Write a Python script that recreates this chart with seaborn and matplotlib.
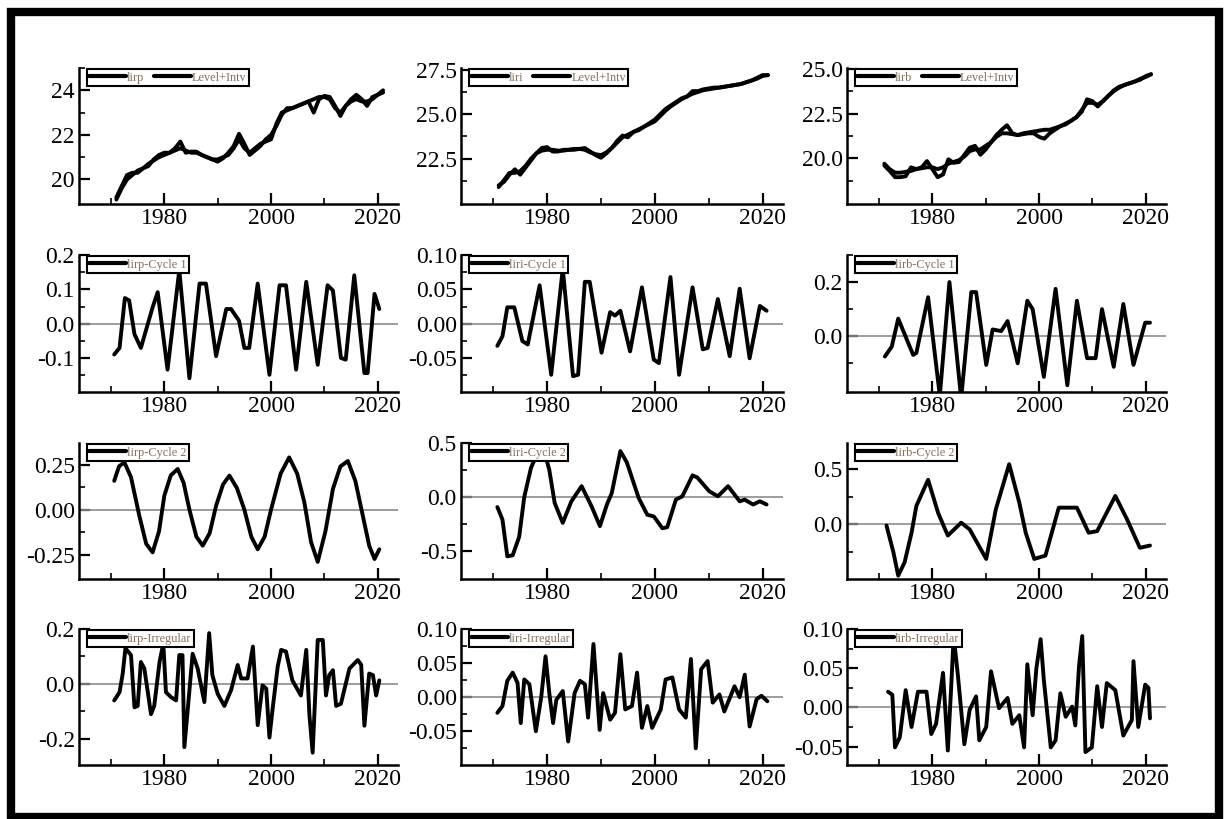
import numpy as np
import pandas as pd
import matplotlib
matplotlib.use("Agg")
import matplotlib.pyplot as plt
import seaborn as sns
from matplotlib.ticker import FixedLocator
from matplotlib.patches import Rectangle

# ---------------- data ----------------
years = list(range(1971, 2022))

lirp = [19.2, 19.7, 20.2, 20.3, 20.3, 20.5, 20.6, 20.9, 21.1, 21.2,
        21.2, 21.4, 21.7, 21.2, 21.25, 21.25, 21.1, 21.0, 20.9, 20.8,
        20.95, 21.2, 21.5, 22.05, 21.6, 21.1, 21.3, 21.5, 21.8, 22.0,
        22.4, 22.9, 23.2, 23.2, 23.3, 23.4, 23.5, 23.0, 23.6, 23.75,
        23.7, 23.3, 22.85, 23.3, 23.6, 23.8, 23.6, 23.3, 23.7, 23.8, 24.0]
lirp_trend = [19.1, 19.6, 20.0, 20.2, 20.4, 20.5, 20.7, 20.85, 21.0, 21.1,
              21.2, 21.3, 21.4, 21.3, 21.2, 21.2, 21.1, 21.0, 20.9, 20.9,
              21.0, 21.1, 21.4, 21.8, 21.4, 21.2, 21.4, 21.6, 21.7, 21.8,
              22.5, 23.0, 23.1, 23.2, 23.3, 23.4, 23.5, 23.6, 23.7, 23.7,
              23.6, 23.2, 23.0, 23.3, 23.5, 23.6, 23.5, 23.5, 23.6, 23.8, 23.9]

liri = [21.0, 21.2, 21.6, 21.9, 21.6, 22.0, 22.4, 22.8, 23.1, 23.15,
        22.9, 22.9, 23.0, 23.0, 23.05, 23.05, 23.1, 22.9, 22.7, 22.55,
        22.8, 23.1, 23.5, 23.8, 23.7, 24.0, 24.1, 24.3, 24.5, 24.7,
        25.0, 25.3, 25.5, 25.7, 25.9, 26.0, 26.3, 26.3, 26.4, 26.45,
        26.5, 26.5, 26.55, 26.6, 26.65, 26.7, 26.8, 26.9, 27.05, 27.2, 27.2]
liri_trend = [20.9, 21.3, 21.7, 21.7, 21.8, 22.1, 22.5, 22.8, 22.95, 23.0,
              23.0, 22.95, 22.95, 23.0, 23.0, 23.05, 23.0, 22.85, 22.75, 22.7,
              22.85, 23.1, 23.4, 23.7, 23.85, 24.0, 24.15, 24.3, 24.45, 24.6,
              24.9, 25.2, 25.45, 25.65, 25.85, 26.0, 26.15, 26.25, 26.35, 26.4,
              26.45, 26.5, 26.55, 26.6, 26.65, 26.7, 26.8, 26.9, 27.0, 27.15, 27.2]

lirb = [19.6, 19.3, 18.95, 18.95, 19.0, 19.5, 19.4, 19.5, 19.85, 19.4,
        18.95, 19.1, 19.95, 19.75, 19.8, 20.2, 20.6, 20.7, 20.2, 20.5,
        20.9, 21.3, 21.6, 21.85, 21.4, 21.3, 21.35, 21.4, 21.4, 21.2,
        21.1, 21.4, 21.6, 21.8, 21.9, 22.1, 22.3, 22.6, 23.3, 23.2,
        22.9, 23.2, 23.5, 23.8, 24.0, 24.1, 24.2, 24.3, 24.4, 24.6, 24.7]
lirb_trend = [19.7, 19.4, 19.2, 19.2, 19.25, 19.3, 19.4, 19.45, 19.5, 19.5,
              19.4, 19.5, 19.7, 19.8, 19.9, 20.1, 20.4, 20.5, 20.5, 20.7,
              20.9, 21.2, 21.4, 21.4, 21.35, 21.3, 21.4, 21.45, 21.5, 21.55,
              21.6, 21.6, 21.7, 21.8, 21.95, 22.1, 22.3, 22.7, 23.1, 23.1,
              23.0, 23.2, 23.5, 23.75, 23.95, 24.1, 24.2, 24.3, 24.45, 24.55, 24.7]

# Cycle 1
lirp_c1_t = [1970.6, 1971.6, 1972.6, 1973.4, 1974.4, 1975.6, 1977.8, 1978.75, 1980.6, 1982.8,
             1984.7, 1986.6, 1987.8, 1989.7, 1991.6, 1992.5, 1994.0, 1995.0, 1995.9, 1997.5,
             1999.7, 2001.6, 2002.8, 2004.7, 2006.6, 2008.75, 2010.6, 2011.6, 2013.1, 2014.0,
             2015.6, 2017.5, 2018.1, 2019.4, 2020.3]
lirp_c1 = [-0.089, -0.07, 0.075, 0.068, -0.03, -0.07, 0.048, 0.092, -0.133, 0.156,
           -0.158, 0.117, 0.117, -0.094, 0.043, 0.043, 0.009, -0.07, -0.07, 0.117,
           -0.148, 0.112, 0.112, -0.133, 0.122, -0.119, 0.112, 0.097, -0.099, -0.104,
           0.141, -0.143, -0.143, 0.087, 0.043]

liri_c1_t = [1970.75, 1971.7, 1972.6, 1973.9, 1975.4, 1976.4, 1978.6, 1980.75, 1982.9, 1984.8,
             1985.75, 1987.0, 1987.9, 1990.1, 1991.7, 1992.6, 1993.6, 1995.4, 1997.6, 1999.8,
             2000.75, 2002.9, 2004.5, 2007.0, 2008.9, 2009.8, 2011.7, 2013.9, 2015.75, 2017.6,
             2019.5, 2020.75]
liri_c1 = [-0.032, -0.018, 0.024, 0.024, -0.025, -0.03, 0.056, -0.074, 0.08, -0.076,
           -0.074, 0.061, 0.061, -0.042, 0.017, 0.012, 0.019, -0.04, 0.053, -0.052,
           -0.057, 0.068, -0.074, 0.053, -0.037, -0.035, 0.036, -0.047, 0.051, -0.05,
           0.026, 0.019]

lirb_c1_t = [1971.1, 1972.4, 1973.6, 1976.4, 1977.0, 1979.2, 1981.4, 1983.2, 1985.4, 1987.3,
             1988.2, 1990.1, 1991.3, 1992.9, 1994.1, 1996.0, 1997.8, 1998.8, 2000.9, 2003.1,
             2005.3, 2007.1, 2009.0, 2010.6, 2011.8, 2014.0, 2015.8, 2017.7, 2019.9, 2020.8]
lirb_c1 = [-0.075, -0.038, 0.065, -0.069, -0.062, 0.144, -0.22, 0.2, -0.23, 0.163,
           0.163, -0.106, 0.025, 0.019, 0.056, -0.1, 0.131, 0.1, -0.15, 0.175,
           -0.181, 0.131, -0.081, -0.081, 0.1, -0.113, 0.119, -0.106, 0.05, 0.05]

# Cycle 2
lirp_c2_t = [1970.6, 1971.5, 1972.5, 1973.75, 1975.3, 1976.6, 1977.8, 1979.0, 1980.0, 1981.2,
             1982.5, 1983.6, 1984.7, 1986.0, 1987.2, 1988.5, 1989.7, 1991.0, 1992.2, 1993.6,
             1995.0, 1996.3, 1997.5, 1998.8, 2000.0, 2001.8, 2003.4, 2004.9, 2006.25, 2007.5,
             2008.75, 2010.2, 2011.6, 2013.0, 2014.4, 2015.8, 2017.2, 2018.4, 2019.4, 2020.3]
lirp_c2 = [0.16, 0.24, 0.263, 0.18, -0.033, -0.19, -0.237, -0.12, 0.078, 0.19,
           0.226, 0.15, 0.0, -0.15, -0.2, -0.13, 0.022, 0.14, 0.189, 0.12,
           0.0, -0.15, -0.22, -0.15, 0.0, 0.2, 0.29, 0.2, 0.04, -0.18,
           -0.29, -0.12, 0.115, 0.24, 0.27, 0.16, -0.033, -0.2, -0.274, -0.22]

liri_c2_t = [1970.75, 1971.7, 1972.6, 1973.6, 1974.8, 1975.75, 1977.0, 1978.25, 1979.2, 1980.4,
             1981.4, 1982.9, 1984.5, 1986.4, 1988.25, 1989.8, 1991.1, 1992.0, 1993.6, 1994.8,
             1997.0, 1998.6, 1999.8, 2001.4, 2002.3, 2003.9, 2005.1, 2007.0, 2007.9, 2010.1,
             2011.7, 2013.6, 2015.75, 2016.7, 2018.25, 2019.5, 2020.75]
liri_c2 = [-0.093, -0.21, -0.55, -0.54, -0.37, 0.0, 0.27, 0.41, 0.47, 0.25,
           -0.056, -0.24, -0.04, 0.1, -0.087, -0.27, -0.07, 0.037, 0.425, 0.32,
           -0.01, -0.165, -0.18, -0.29, -0.28, -0.025, 0.006, 0.2, 0.18, 0.053,
           0.006, 0.1, -0.04, -0.025, -0.07, -0.04, -0.07]

lirb_c2_t = [1971.4, 1972.7, 1973.6, 1974.8, 1976.1, 1977.0, 1979.2, 1981.1, 1982.9, 1985.4,
             1987.0, 1990.1, 1991.9, 1994.4, 1996.3, 1997.5, 1999.1, 2001.2, 2003.7, 2007.1,
             2009.3, 2010.9, 2014.3, 2016.5, 2018.9, 2020.8]
lirb_c2 = [-0.01, -0.25, -0.46, -0.34, -0.075, 0.165, 0.4, 0.1, -0.1, 0.015,
           -0.045, -0.31, 0.135, 0.54, 0.195, -0.075, -0.31, -0.28, 0.15, 0.15,
           -0.075, -0.06, 0.255, 0.045, -0.21, -0.19]

# Irregular
lirp_ir_t = [1970.6, 1971.6, 1972.2, 1972.7, 1973.75, 1974.4, 1975.0, 1975.6, 1976.25, 1977.5,
             1978.1, 1979.1, 1979.8, 1980.3, 1981.25, 1982.2, 1982.8, 1983.4, 1983.75, 1984.4,
             1985.3, 1986.25, 1987.5, 1988.4, 1989.0, 1990.0, 1991.25, 1992.5, 1993.75, 1994.4,
             1995.6, 1996.6, 1997.5, 1998.4, 1999.1, 1999.7, 2000.3, 2001.25, 2001.9, 2002.8,
             2004.0, 2005.6, 2006.6, 2007.2, 2007.8, 2008.75, 2009.7, 2010.3, 2010.9, 2011.6,
             2012.2, 2013.1, 2014.7, 2016.25, 2016.9, 2017.5, 2018.4, 2019.1, 2019.7, 2020.3]
lirp_ir = [-0.06, -0.03, 0.038, 0.13, 0.105, -0.085, -0.08, 0.08, 0.056, -0.11,
           -0.08, 0.08, 0.148, -0.03, -0.048, -0.06, 0.105, 0.105, -0.23, -0.09,
           0.11, 0.056, -0.066, 0.185, 0.032, -0.036, -0.08, -0.023, 0.069, 0.02,
           0.02, 0.136, -0.15, -0.005, -0.017, -0.195, -0.09, 0.063, 0.124, 0.118,
           0.013, -0.042, 0.124, -0.115, -0.25, 0.16, 0.16, -0.042, 0.032, 0.05,
           -0.08, -0.072, 0.056, 0.087, 0.07, -0.152, 0.038, 0.032, -0.042, 0.013]

liri_ir_t = [1970.75, 1971.7, 1972.6, 1973.6, 1974.5, 1975.1, 1975.75, 1976.7, 1977.9, 1978.9,
             1979.7, 1980.4, 1981.1, 1981.7, 1982.9, 1983.9, 1985.1, 1986.1, 1987.0, 1987.6,
             1988.6, 1989.75, 1990.4, 1991.7, 1992.6, 1993.6, 1994.5, 1995.75, 1996.7, 1997.6,
             1998.6, 1999.5, 2001.1, 2002.0, 2003.25, 2004.5, 2005.75, 2006.7, 2007.6, 2008.6,
             2009.8, 2010.75, 2012.0, 2012.9, 2014.8, 2015.75, 2016.7, 2017.6, 2018.9, 2019.8,
             2020.9]
liri_ir = [-0.023, -0.013, 0.024, 0.036, 0.021, -0.038, 0.026, 0.019, -0.05, 0.0,
           0.06, 0.006, -0.038, -0.004, 0.009, -0.065, 0.006, 0.024, 0.019, -0.03,
           0.078, -0.048, 0.006, -0.033, -0.023, 0.063, -0.018, -0.013, 0.036, -0.045,
           -0.013, -0.045, -0.018, 0.026, 0.029, -0.018, -0.03, 0.056, -0.075, 0.041,
           0.053, -0.008, 0.004, -0.021, 0.016, 0.0, 0.033, -0.043, -0.003, 0.002,
           -0.006]

lirb_ir_t = [1971.7, 1972.5, 1973.0, 1973.9, 1975.0, 1976.1, 1977.3, 1978.9, 1979.8, 1980.7,
             1982.0, 1982.9, 1983.5, 1984.0, 1984.8, 1986.0, 1987.0, 1988.2, 1988.8, 1990.1,
             1991.0, 1992.5, 1994.1, 1995.0, 1996.3, 1997.2, 1997.8, 1998.8, 1999.5, 2000.3,
             2000.9, 2002.2, 2003.1, 2004.0, 2005.0, 2006.2, 2006.8, 2007.5, 2008.1, 2008.7,
             2009.9, 2010.9, 2011.8, 2012.7, 2014.3, 2015.8, 2017.4, 2017.7, 2018.6, 2019.9,
             2020.5, 2020.8]
lirb_ir = [0.02, 0.016, -0.051, -0.038, 0.022, -0.025, 0.02, 0.02, -0.034, -0.021,
           0.044, -0.055, 0.022, 0.091, 0.04, -0.047, -0.003, 0.014, -0.042, -0.025,
           0.046, -0.001, 0.012, -0.021, -0.01, -0.051, 0.055, -0.01, 0.05, 0.087,
           0.035, -0.051, -0.042, 0.018, -0.012, 0.001, -0.023, 0.053, 0.091, -0.057,
           -0.051, 0.027, -0.025, 0.031, 0.022, -0.036, -0.016, 0.059, -0.025, 0.029,
           0.025, -0.014]

names = ["lirp", "liri", "lirb"]
levels = [(lirp, lirp_trend), (liri, liri_trend), (lirb, lirb_trend)]
cycle1 = [(lirp_c1_t, lirp_c1), (liri_c1_t, liri_c1), (lirb_c1_t, lirb_c1)]
cycle2 = [(lirp_c2_t, lirp_c2), (liri_c2_t, liri_c2), (lirb_c2_t, lirb_c2)]
irreg = [(lirp_ir_t, lirp_ir), (liri_ir_t, liri_ir), (lirb_ir_t, lirb_ir)]

# y-axis settings per panel: (ylim, major ticks, minor ticks, format)
yset = [
    [((18.9, 25.0), [20, 22, 24], [21, 23, 25], "{:.0f}"),
     ((19.95, 27.6), [22.5, 25.0, 27.5], [21.25, 23.75, 26.25], "{:.1f}"),
     ((17.45, 25.05), [20.0, 22.5, 25.0], [18.75, 21.25, 23.75], "{:.1f}")],
    [((-0.198, 0.2), [-0.1, 0.0, 0.1, 0.2], [-0.15, -0.05, 0.05, 0.15], "{:.1f}"),
     ((-0.099, 0.1), [-0.05, 0.0, 0.05, 0.1], [-0.075, -0.025, 0.025, 0.075], "{:.2f}"),
     ((-0.206, 0.3), [0.0, 0.2], [-0.1, 0.1, 0.3], "{:.1f}")],
    [((-0.385, 0.37), [-0.25, 0.0, 0.25], [-0.125, 0.125, 0.375], "{:.2f}"),
     ((-0.76, 0.5), [-0.5, 0.0, 0.5], [-0.25, 0.25], "{:.1f}"),
     ((-0.49, 0.73), [0.0, 0.5], [-0.25, 0.25], "{:.1f}")],
    [((-0.295, 0.2), [-0.2, 0.0, 0.2], [-0.1, 0.1], "{:.1f}"),
     ((-0.0995, 0.1), [-0.05, 0.0, 0.05, 0.1], [-0.075, -0.025, 0.025, 0.075], "{:.2f}"),
     ((-0.0735, 0.1), [-0.05, 0.0, 0.05, 0.1], [-0.025, 0.025, 0.075], "{:.2f}")],
]

# ---------------- style ----------------
sns.set_theme(style="ticks")
plt.rcParams["font.family"] = ["Liberation Serif", "DejaVu Serif"]

W, H = 1227, 819
fig = plt.figure(figsize=(W / 100, H / 100), dpi=100)
fig.patch.set_facecolor("white")

cols_px = [(79, 398), (461, 783), (847, 1166)]
rows_px = [(68, 204), (255, 392), (443, 579), (629, 765)]

LW = 2.8
legend_color = "#8a6e55"


def style_axes(ax, r, c):
    (ylim, major, minor, fmt) = yset[r][c]
    ax.set_xlim(1964, 2023.8)
    ax.set_ylim(*ylim)
    ax.xaxis.set_major_locator(FixedLocator([1980, 2000, 2020]))
    ax.xaxis.set_minor_locator(FixedLocator([1970, 1990, 2010]))
    ax.yaxis.set_major_locator(FixedLocator(major))
    ax.yaxis.set_minor_locator(FixedLocator(minor))
    ax.set_yticklabels([fmt.format(v) for v in major])
    ax.set_xticklabels(["1980", "2000", "2020"])
    for s in ["top", "right"]:
        ax.spines[s].set_visible(False)
    for s in ["left", "bottom"]:
        ax.spines[s].set_linewidth(1.8)
        ax.spines[s].set_color("black")
    ax.tick_params(axis="both", which="major", direction="in", length=8, width=1.6,
                   labelsize=17, colors="black", pad=3)
    ax.tick_params(axis="both", which="minor", direction="in", length=4.5, width=1.4)
    ax.set_xlabel("")
    ax.set_ylabel("")
    ax.set_facecolor("white")


def add_legend(ax, ncol=1):
    leg = ax.legend(loc="upper left", bbox_to_anchor=(0.02, 1.0), ncol=ncol,
                    fontsize=8.8, frameon=True, fancybox=False, borderpad=0.2,
                    handlelength=3.0, handletextpad=0.1, columnspacing=0.8,
                    borderaxespad=0.1)
    fr = leg.get_frame()
    fr.set_edgecolor("black")
    fr.set_linewidth(1.5)
    fr.set_facecolor("white")
    fr.set_alpha(1)
    for t in leg.get_texts():
        t.set_color(legend_color)
    for l in leg.get_lines():
        l.set_linewidth(3.0)


for r in range(4):
    for c in range(3):
        x0, x1 = cols_px[c]
        y0, y1 = rows_px[r]
        ax = fig.add_axes([x0 / W, 1 - y1 / H, (x1 - x0) / W, (y1 - y0) / H])
        name = names[c]
        if r == 0:
            data, trend = levels[c]
            df = pd.DataFrame({"year": years, "data": data, "trend": trend})
            sns.lineplot(data=df, x="year", y="data", ax=ax, color="black", lw=LW,
                         label=name, estimator=None, sort=False)
            sns.lineplot(data=df, x="year", y="trend", ax=ax, color="black", lw=LW,
                         label="Level+Intv", estimator=None, sort=False)
            style_axes(ax, r, c)
            add_legend(ax, ncol=2)
        else:
            src = [cycle1, cycle2, irreg][r - 1][c]
            lab = name + ["-Cycle 1", "-Cycle 2", "-Irregular"][r - 1]
            ax.axhline(0, color="#8c8c8c", lw=1.2, zorder=1)
            df = pd.DataFrame({"year": src[0], "value": src[1]})
            sns.lineplot(data=df, x="year", y="value", ax=ax, color="black", lw=LW,
                         label=lab, estimator=None, sort=False, zorder=3)
            style_axes(ax, r, c)
            add_legend(ax, ncol=1)

# outer black frame
fig.patches.append(Rectangle((11 / W, 1 - 817 / H), (1219 - 11) / W, (817 - 12) / H,
                             transform=fig.transFigure, fill=False,
                             edgecolor="black", linewidth=6, zorder=10))

fig.savefig("out.png", dpi=100, facecolor="white")
